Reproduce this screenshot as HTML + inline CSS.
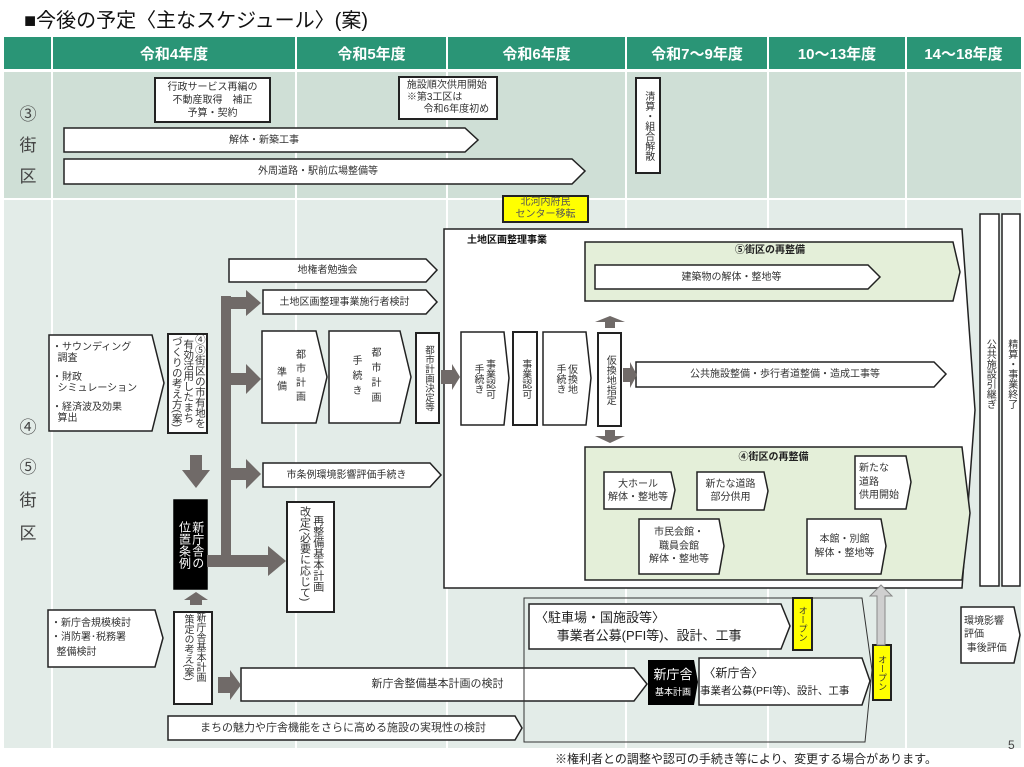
<!DOCTYPE html>
<html><head><meta charset="utf-8">
<style>
*{margin:0;padding:0;box-sizing:border-box}
body{width:1024px;height:767px;background:#fff;position:relative;overflow:hidden;font-family:"Liberation Sans","Noto Sans CJK JP",sans-serif;color:#333}
svg{position:absolute;left:0;top:0}
.t{position:absolute;display:flex;align-items:center;justify-content:center;text-align:center;font-size:10px;line-height:1.3;color:#333;white-space:nowrap}
.v{writing-mode:vertical-rl;line-height:1.15}
.h{position:absolute;color:#fff;font-weight:bold;font-size:15px;top:38px;height:30px;display:flex;align-items:center;justify-content:center}
.L{position:absolute;font-size:17px;color:#444;width:40px;text-align:center;left:8px}
.lf{justify-content:flex-start;text-align:left}
</style></head><body>
<svg width="1024" height="767" viewBox="0 0 1024 767">
<rect x="4" y="37" width="1017" height="32" fill="#2a9576"/>
<rect x="4" y="72" width="1017" height="126" fill="#cfdfd6"/>
<rect x="4" y="200" width="1017" height="548" fill="#e3ece8"/>
<g stroke="#fff" stroke-width="2">
<line x1="52" y1="37" x2="52" y2="748"/><line x1="296" y1="37" x2="296" y2="748"/>
<line x1="447" y1="37" x2="447" y2="748"/><line x1="626" y1="37" x2="626" y2="748"/>
<line x1="768" y1="37" x2="768" y2="748"/><line x1="906" y1="37" x2="906" y2="748"/>
<line x1="4" y1="70.5" x2="1021" y2="70.5"/><line x1="4" y1="199" x2="1021" y2="199"/>
</g>
<g fill="#fff" stroke="#222" stroke-width="1.5">
<rect x="155" y="78" width="115" height="44" stroke-width="2"/>
<rect x="399" y="77" width="98" height="42" stroke-width="2"/>
<polygon points="64,128 465,128 478,140 465,152 64,152"/>
<polygon points="64,159 572,159 585,171 572,184 64,184"/>
<rect x="636" y="78" width="24" height="95" stroke-width="2"/>
<rect x="503" y="196" width="85" height="26" fill="#ffff00" stroke-width="2"/>
<polygon points="444,229 962,229 975,410 962,588 444,588"/>
<polygon points="585,242 953,242 960,272 953,301 585,301" fill="#e4efd9"/>
<polygon points="595,265 868,265 880,277 868,289 595,289"/>
<polygon points="585,447 962,447 970,513 962,580 585,580" fill="#e4efd9"/>
<polygon points="604,472 671,472 675,490 671,509 604,509"/>
<polygon points="697,472 764,472 768,491 764,510 697,510"/>
<polygon points="855,456 906,456 911,482 906,509 855,509"/>
<polygon points="639,519 719,519 724,546 719,574 639,574"/>
<polygon points="807,519 881,519 886,546 881,574 807,574"/>
<polygon points="636,362 934,362 946,374 934,387 636,387"/>
<polygon points="461,332 504,332 509,378 504,425 461,425"/>
<rect x="513" y="332" width="24" height="93" stroke-width="2"/>
<polygon points="543,332 586,332 591,378 586,425 543,425"/>
<rect x="598" y="333" width="23" height="93" stroke-width="2"/>
<polygon points="229,259 426,259 437,270 426,282 229,282"/>
<polygon points="263,290 426,290 437,302 426,314 263,314"/>
<polygon points="262,331 316,331 327,377 316,423 262,423"/>
<polygon points="329,331 400,331 411,377 400,423 329,423"/>
<rect x="416" y="333" width="23" height="90" stroke-width="2"/>
<polygon points="263,463 430,463 441,475 430,487 263,487"/>
<polygon points="49,335 152,335 164,383 152,431 49,431"/>
<rect x="168" y="334" width="39" height="99" stroke-width="2"/>
<rect x="174" y="500" width="33" height="89" fill="#000" stroke="#000"/>
<rect x="287" y="502" width="47" height="110" stroke-width="2"/>
<rect x="980" y="214" width="19" height="372"/>
<rect x="1002" y="214" width="18" height="372"/>
<polygon points="48,610 155,610 163,638 155,667 48,667"/>
<rect x="174" y="612" width="38" height="92" stroke-width="2"/>
<polygon points="241,668 634,668 647,684 634,701 241,701"/>
<polygon points="524,598 862,598 872,670 865,742 524,742" fill="none" stroke="#333" stroke-width="1"/>
<polygon points="529,604 781,604 790,626 781,649 529,649"/>
<polygon points="699,658 862,658 870,681 862,705 699,705"/>
<polygon points="168,716 515,716 522,728 515,740 168,740"/>
<polygon points="961,607 1014,607 1020,635 1014,663 961,663"/>
<rect x="793" y="598" width="19" height="52" fill="#ffff00" stroke-width="2"/>
<rect x="873" y="645" width="18" height="55" fill="#ffff00" stroke-width="2"/>
</g>
<polygon points="648,660 694,660 698,682 694,705 648,705" fill="#000"/>
<g fill="#706a68">
<rect x="221" y="296" width="10" height="270"/>
<polygon points="231,297 246,297 246,290 261,303 246,316 246,309 231,309"/>
<polygon points="231,373 246,373 246,364 261,379 246,394 246,385 231,385"/>
<polygon points="231,468 246,468 246,459 261,474 246,489 246,480 231,480"/>
<polygon points="207,555 268,555 268,546 286,561 268,576 268,567 207,567"/>
<polygon points="190,455 202,455 202,470 210,470 196,488 182,470 190,470"/>
<polygon points="190,605 202,605 202,600 208,600 196,592 184,600 190,600"/>
<polygon points="441,370 452,370 452,364 460,377 452,390 452,384 441,384"/>
<polygon points="623,368 630,368 630,362 637,375 630,388 630,382 623,382"/>
<polygon points="605,328 615,328 615,322 625,322 610,316 595,322 605,322"/>
<polygon points="605,430 615,430 615,436 625,436 610,443 595,436 605,436"/>
<polygon points="218,677 230,677 230,670 241,685 230,700 230,693 218,693"/>
</g>
<polygon points="877,645 885,645 885,596 892,596 881,585 870,596 877,596" fill="#cfcfcf" stroke="#888" stroke-width="1"/>
</svg>

<div style="position:absolute;left:24px;top:4px;font-size:20px;color:#111">■今後の予定〈主なスケジュール〉(案)</div>
<div class="h" style="left:52px;width:244px">令和4年度</div>
<div class="h" style="left:296px;width:151px">令和5年度</div>
<div class="h" style="left:447px;width:179px">令和6年度</div>
<div class="h" style="left:626px;width:142px">令和7～9年度</div>
<div class="h" style="left:768px;width:138px">10～13年度</div>
<div class="h" style="left:906px;width:115px">14～18年度</div>

<div class="L" style="top:100px">③</div><div class="L" style="top:131px">街</div><div class="L" style="top:162px">区</div>
<div class="L" style="top:413px">④</div><div class="L" style="top:453px">⑤</div><div class="L" style="top:486px">街</div><div class="L" style="top:519px">区</div>

<div class="t" style="left:155px;top:78px;width:115px;height:44px"><div>行政サービス再編の<br>不動産取得　補正<br>予算・契約</div></div>
<div class="t" style="left:399px;top:77px;width:98px;height:42px;text-align:left;line-height:1.2"><div>施設順次供用開始<br>※第3工区は<br>&nbsp;&nbsp;&nbsp;&nbsp;&nbsp;&nbsp;令和6年度初め</div></div>
<div class="t" style="left:64px;top:128px;width:400px;height:24px">解体・新築工事</div>
<div class="t" style="left:64px;top:159px;width:508px;height:25px">外周道路・駅前広場整備等</div>
<div class="t v" style="left:636px;top:78px;width:24px;height:95px">清算・組合解散</div>
<div class="t" style="left:503px;top:196px;width:85px;height:26px;line-height:1.2;color:#555"><div>北河内府民<br>センター移転</div></div>

<div class="t" style="left:467px;top:234px;font-weight:bold;color:#111">土地区画整理事業</div>
<div class="t" style="left:585px;top:244px;width:370px;font-weight:bold;color:#222">⑤街区の再整備</div>
<div class="t" style="left:595px;top:265px;width:273px;height:24px">建築物の解体・整地等</div>
<div class="t" style="left:585px;top:451px;width:377px;font-weight:bold;color:#222">④街区の再整備</div>
<div class="t" style="left:604px;top:472px;width:68px;height:37px"><div>大ホール<br>解体・整地等</div></div>
<div class="t" style="left:697px;top:472px;width:67px;height:38px"><div>新たな道路<br>部分供用</div></div>
<div class="t lf" style="left:859px;top:456px;width:48px;height:53px;line-height:1.35"><div>新たな<br>道路<br>供用開始</div></div>
<div class="t" style="left:639px;top:519px;width:80px;height:55px;line-height:1.35"><div>市民会館・<br>職員会館<br>解体・整地等</div></div>
<div class="t" style="left:807px;top:519px;width:75px;height:55px;line-height:1.4"><div>本館・別館<br>解体・整地等</div></div>
<div class="t" style="left:636px;top:362px;width:298px;height:25px">公共施設整備・歩行者道整備・造成工事等</div>

<div class="t v" style="left:461px;top:332px;width:44px;height:93px"><div>事業認可<br>手続き</div></div>
<div class="t v" style="left:513px;top:332px;width:24px;height:93px">事業認可</div>
<div class="t v" style="left:543px;top:332px;width:44px;height:93px"><div>仮換地<br>手続き</div></div>
<div class="t v" style="left:598px;top:333px;width:23px;height:93px">仮換地指定</div>
<div class="t" style="left:229px;top:259px;width:197px;height:23px">地権者勉強会</div>
<div class="t" style="left:263px;top:290px;width:163px;height:24px">土地区画整理事業施行者検討</div>
<div class="t v" style="left:262px;top:331px;width:55px;height:92px;line-height:1.9;letter-spacing:4px"><div>都市計画<br>&nbsp;準備</div></div>
<div class="t v" style="left:329px;top:331px;width:72px;height:92px;line-height:1.9;letter-spacing:5px"><div>都市計画<br>手続き</div></div>
<div class="t v" style="left:416px;top:333px;width:23px;height:90px;font-size:9.5px">都市計画決定等</div>
<div class="t" style="left:263px;top:463px;width:167px;height:24px;z-index:5"><div>市条例環境影響評価手続き</div></div>
<div class="t lf" style="left:52px;top:335px;width:100px;height:96px;line-height:1.15"><div>・サウンディング<br>&nbsp;&nbsp;調査<div style="height:7px"></div>・財政<br>&nbsp;&nbsp;シミュレーション<div style="height:7px"></div>・経済波及効果<br>&nbsp;&nbsp;算出</div></div>
<div class="t v" style="left:168px;top:334px;width:39px;height:99px;justify-content:flex-start;align-items:center;font-size:10.5px;line-height:1.1"><div>④⑤街区の市有地を<br>有効活用したまち<br>づくりの考え方(案)</div></div>
<div class="t v" style="left:174px;top:500px;width:33px;height:89px;color:#fff;font-size:12px;line-height:1.1"><div>新庁舎の<br>位置条例</div></div>
<div class="t v" style="left:287px;top:502px;width:47px;height:110px;justify-content:flex-start;padding-top:4px;font-size:11px;line-height:1.2"><div>再整備基本計画<br>改定(必要に応じて)</div></div>
<div class="t v" style="left:980px;top:214px;width:19px;height:320px">公共施設引継ぎ</div>
<div class="t v" style="left:1002px;top:214px;width:18px;height:320px">精算・事業終了</div>
<div class="t lf" style="left:51px;top:610px;width:104px;height:57px;line-height:1.45"><div>・新庁舎規模検討<br>・消防署･税務署<br>&nbsp;&nbsp;整備検討</div></div>
<div class="t v" style="left:174px;top:612px;width:38px;height:92px;justify-content:flex-start;line-height:1.2"><div>新庁舎基本計画<br>策定の考え(案)</div></div>
<div class="t" style="left:241px;top:668px;width:393px;height:33px;font-size:11px">新庁舎整備基本計画の検討</div>
<div class="t lf" style="left:535px;top:604px;width:250px;height:45px;font-size:13px;line-height:1.35;color:#222;white-space:normal"><div>〈駐車場・国施設等〉<br>&nbsp;&nbsp;&nbsp;&nbsp;&nbsp;&nbsp;事業者公募(PFI等)、設計、工事</div></div>
<div class="t" style="left:648px;top:660px;width:50px;height:45px;color:#fff;font-size:13px;line-height:1.2"><div>新庁舎<br><span style="font-size:9px">基本計画</span></div></div>
<div class="t lf" style="left:700px;top:658px;width:165px;height:47px;font-size:12px;line-height:1.4;color:#222"><div>&nbsp;〈新庁舎〉<br><span style="font-size:10.5px">事業者公募(PFI等)、設計、工事</span></div></div>
<div class="t" style="left:168px;top:716px;width:350px;height:24px;font-size:11px">まちの魅力や庁舎機能をさらに高める施設の実現性の検討</div>
<div class="t lf" style="left:964px;top:607px;width:52px;height:56px;line-height:1.35"><div>環境影響<br>評価<br>&nbsp;事後評価</div></div>
<div class="t v" style="left:793px;top:598px;width:19px;height:52px;font-size:9px">オープン</div>
<div class="t v" style="left:873px;top:645px;width:18px;height:55px;font-size:9px">オープン</div>
<div style="position:absolute;left:555px;top:750px;font-size:12px;color:#222">※権利者との調整や認可の手続き等により、変更する場合があります。</div>
<div style="position:absolute;left:1008px;top:738px;font-size:12px;color:#444">5</div>
</body></html>
